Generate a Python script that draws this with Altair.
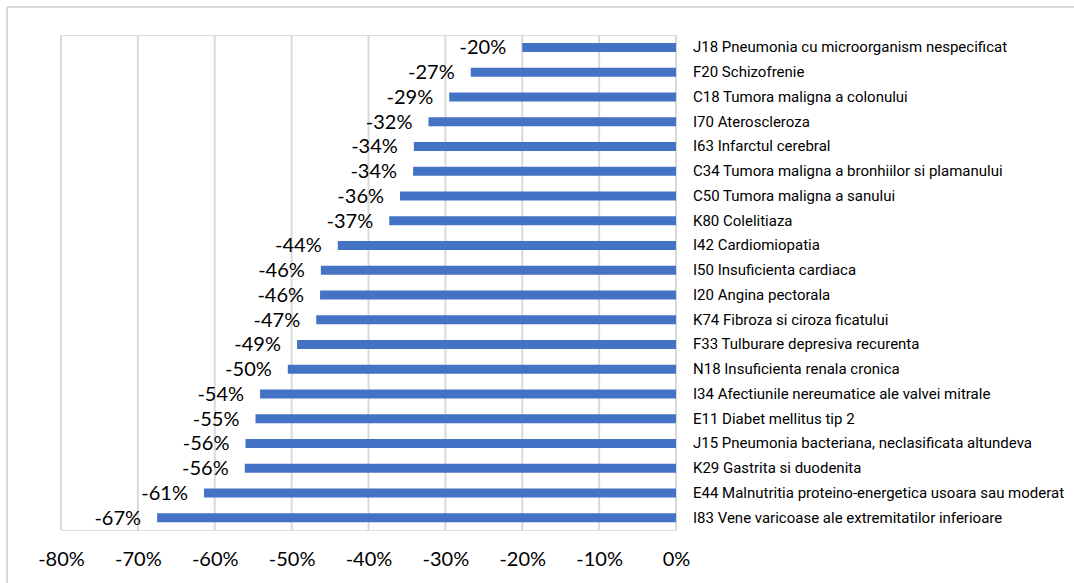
import altair as alt
import pandas as pd

categories = [
    "J18 Pneumonia cu microorganism nespecificat",
    "F20 Schizofrenie",
    "C18 Tumora maligna a colonului",
    "I70 Ateroscleroza",
    "I63 Infarctul cerebral",
    "C34 Tumora maligna a bronhiilor si plamanului",
    "C50 Tumora maligna a sanului",
    "K80 Colelitiaza",
    "I42 Cardiomiopatia",
    "I50 Insuficienta cardiaca",
    "I20 Angina pectorala",
    "K74 Fibroza si ciroza ficatului",
    "F33 Tulburare depresiva recurenta",
    "N18 Insuficienta renala cronica",
    "I34 Afectiunile nereumatice ale valvei mitrale",
    "E11 Diabet mellitus tip 2",
    "J15 Pneumonia bacteriana, neclasificata altundeva",
    "K29 Gastrita si duodenita",
    "E44 Malnutritia proteino-energetica usoara sau moderat",
    "I83 Vene varicoase ale extremitatilor inferioare",
]
values = [-20.0, -26.7, -29.5, -32.2, -34.1, -34.2, -35.9, -37.3, -44.0, -46.2,
          -46.3, -46.8, -49.3, -50.5, -54.1, -54.7, -56.0, -56.1, -61.4, -67.5]
value_labels = ["-20%", "-27%", "-29%", "-32%", "-34%", "-34%", "-36%", "-37%", "-44%", "-46%",
                "-46%", "-47%", "-49%", "-50%", "-54%", "-55%", "-56%", "-56%", "-61%", "-67%"]
tick_values = [-80, -70, -60, -50, -40, -30, -20, -10, 0]

df = pd.DataFrame({"cat": categories, "value": values, "label": value_labels,
                   "zero": [0] * len(categories)})
ticks_df = pd.DataFrame({"t": tick_values})

W, H = 615, 495

y_enc = alt.Y("cat:N", sort=categories, axis=None,
              scale=alt.Scale(paddingInner=0, paddingOuter=0))
x_scale = alt.Scale(domain=[-80, 0], nice=False, zero=False)

base = alt.Chart(df)
one = alt.Chart(pd.DataFrame({"a": [0]}))

# outer chart-area frame (Excel style), left and top edges
frame_left = one.mark_rule(color="#d9d9d9", strokeWidth=2).encode(
    x=alt.value(-54), y=alt.value(-28), y2=alt.value(620))
frame_top = one.mark_rule(color="#d9d9d9", strokeWidth=2).encode(
    x=alt.value(-54), x2=alt.value(1100), y=alt.value(-28))

grid = alt.Chart(ticks_df).mark_rule(color="#d9d9d9", strokeWidth=2).encode(
    x=alt.X("t:Q", scale=x_scale,
            axis=alt.Axis(values=tick_values, labelExpr="datum.value + '%'",
                          grid=False, domain=False, ticks=False, labelFontSize=20,
                          labelFont="Lato", labelColor="black",
                          labelFlush=False, labelOverlap=False,
                          labelPadding=19, title=None)),
    y=alt.value(0), y2=alt.value(H),
)

bars = base.mark_bar(size=9, color="#4472c4").encode(
    x=alt.X("value:Q", scale=x_scale),
    x2="zero:Q",
    y=y_enc,
)

val_text = base.mark_text(align="right", baseline="middle", dx=-16, dy=1,
                          font="Lato", fontSize=20, color="black").encode(
    x=alt.X("value:Q", scale=x_scale), y=y_enc, text="label:N")

cat_text = base.mark_text(align="left", baseline="middle", dx=17,
                          font="Roboto", fontSize=15, color="black").encode(
    x=alt.X("zero:Q", scale=x_scale), y=y_enc, text="cat:N")

chart = alt.layer(frame_left, frame_top, grid, bars, val_text, cat_text).properties(
    width=W, height=H,
    autosize=alt.AutoSizeParams(type="none"),
    padding={"left": 61, "top": 35, "right": 398, "bottom": 53},
).configure_view(stroke="transparent", strokeWidth=0).configure(background="white")

chart.save("out.html", embed_options={"renderer": "svg", "actions": False})
